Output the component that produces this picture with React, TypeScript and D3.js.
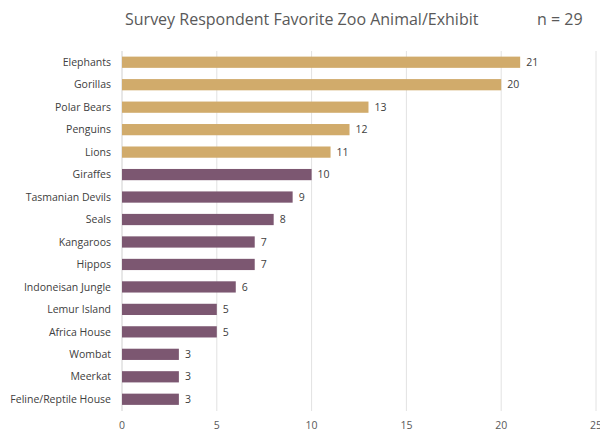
import React from "react";
import * as d3 from "d3";

const categories = [
  "Elephants", "Gorillas", "Polar Bears", "Penguins", "Lions", "Giraffes",
  "Tasmanian Devils", "Seals", "Kangaroos", "Hippos", "Indoneisan Jungle",
  "Lemur Island", "Africa House", "Wombat", "Meerkat", "Feline/Reptile House",
];
const values = [21, 20, 13, 12, 11, 10, 9, 8, 7, 7, 6, 5, 5, 3, 3, 3];
const highlightCount = 5;
const ticks = [0, 5, 10, 15, 20, 25];

const GOLD = "#D1AB6B";
const PURPLE = "#7C5771";
const FONT = "'Open Sans', 'Noto Sans', sans-serif";

export default function App() {
  const W = 600, H = 435;
  const x = d3.scaleLinear().domain([0, 25]).range([122, 596]);
  const y = d3.scaleBand<string>().domain(categories).range([51, 410.5]).paddingInner(0.5).paddingOuter(0.25);
  return (
    <svg width={W} height={H} style={{ position: "absolute", left: 0, top: 0, background: "#fff" }}>
      <text x={125} y={25} fontFamily={FONT} fontSize={16} fill="#595959">Survey Respondent Favorite Zoo Animal/Exhibit</text>
      <text x={537} y={25} fontFamily={FONT} fontSize={16} fill="#595959">n = 29</text>
      {ticks.map((t) => (
        <g key={t}>
          <line x1={x(t)} x2={x(t)} y1={51} y2={411} stroke={t === 0 ? "#d0d0d0" : "#e2e2e2"} strokeWidth={1} />
          <text x={x(t)} y={429} textAnchor="middle" fontFamily={FONT} fontSize={10.5} fill="#595959">{t}</text>
        </g>
      ))}
      {categories.map((c, i) => {
        const yy = y(c)!;
        const bw = y.bandwidth();
        return (
          <g key={c}>
            <rect x={x(0)} y={yy} width={x(values[i]) - x(0)} height={bw} fill={i < highlightCount ? GOLD : PURPLE} />
            <text x={111} y={yy + bw / 2} dy="0.35em" textAnchor="end" fontFamily={FONT} fontSize={10.5} fill="#404040">{c}</text>
            <text x={x(values[i]) + 6} y={yy + bw / 2} dy="0.35em" fontFamily={FONT} fontSize={10.5} fill="#404040">{values[i]}</text>
          </g>
        );
      })}
    </svg>
  );
}
